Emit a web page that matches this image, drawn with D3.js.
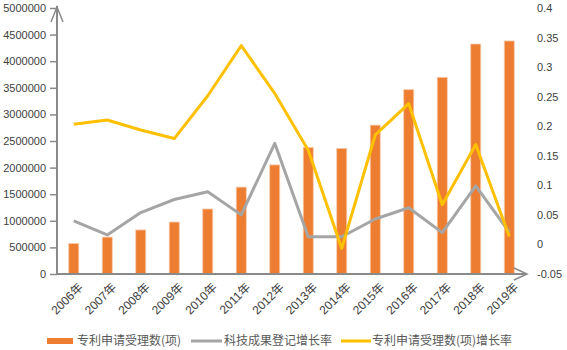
<!DOCTYPE html>
<html><head><meta charset="utf-8">
<script src="https://cdn.jsdelivr.net/npm/d3@7"></script>
<style>
body{margin:0;background:#fff;}
svg{display:block;font-family:"Liberation Sans",Arial,"Noto Sans CJK SC",sans-serif;}
</style></head>
<body><svg id="c" width="567" height="350"></svg>
<script>
const years = ["2006年","2007年","2008年","2009年","2010年","2011年","2012年","2013年","2014年","2015年","2016年","2017年","2018年","2019年"];
const patents = [573178,693917,828328,976686,1222286,1633347,2050649,2377061,2361243,2798500,3464824,3697845,4323112,4380468];
const techGrowth = [0.040,0.016,0.054,0.076,0.089,0.050,0.171,0.013,0.013,0.043,0.062,0.020,0.099,0.021];
const patentGrowth = [0.2035,0.2106,0.1937,0.1791,0.2515,0.3363,0.2555,0.1592,-0.0067,0.1852,0.2381,0.0673,0.1691,0.0133];
const leftTicks = [0,500000,1000000,1500000,2000000,2500000,3000000,3500000,4000000,4500000,5000000];
const rightTicks = [-0.05,0,0.05,0.1,0.15,0.2,0.25,0.3,0.35,0.4];
const seriesNames = ["专利申请受理数(项)","科技成果登记增长率","专利申请受理数(项)增长率"];

const svg = d3.select("#c");
const axisColor = "#8a8a8a", textColor = "#404040";
const x0 = 57, x1 = 526, yTop = 8, yBot = 274;

const xb = d3.scaleBand().domain(years).range([x0,x1]).paddingInner(0.7).paddingOuter(0.35);
const xp = d3.scalePoint().domain(years).range([x0,x1]).padding(0.5);
const yL = d3.scaleLinear().domain([0,5000000]).range([yBot,yTop]);
const yR = d3.scaleLinear().domain([-0.05,0.4]).range([yBot,yTop]);

// bars
svg.append("g").selectAll("rect").data(patents).join("rect")
  .attr("x",(d,i)=>xb(years[i])).attr("y",d=>yL(d))
  .attr("width",xb.bandwidth()).attr("height",d=>yBot-yL(d))
  .attr("fill","#ED7D31").attr("stroke","#F8CBAD").attr("stroke-width",0.8);

// lines
const lineR = d3.line().x((d,i)=>xp(years[i])).y(d=>yR(d));
svg.append("path").datum(techGrowth).attr("d",lineR).attr("fill","none")
  .attr("stroke","#A5A5A5").attr("stroke-width",3).attr("stroke-linejoin","round");
svg.append("path").datum(patentGrowth).attr("d",lineR).attr("fill","none")
  .attr("stroke","#FFC000").attr("stroke-width",3).attr("stroke-linejoin","round");

// left axis
const gL = svg.append("g").attr("transform",`translate(${x0},0)`)
  .call(d3.axisLeft(yL).tickValues(leftTicks).tickSize(7).tickPadding(4).tickFormat(d3.format("d")));
gL.select(".domain").remove();
gL.selectAll(".tick line").attr("stroke",axisColor).attr("stroke-width",1.5);
gL.selectAll(".tick text").attr("fill",textColor).style("font-size","11px").style("font-family","Liberation Sans, Arial, sans-serif");
svg.append("line").attr("x1",x0).attr("x2",x0).attr("y1",yBot).attr("y2",yTop-2)
  .attr("stroke",axisColor).attr("stroke-width",2);
svg.append("path").attr("d",`M${x0-6},${yTop+14}L${x0},${yTop-1}L${x0+6},${yTop+14}`)
  .attr("fill","none").attr("stroke",axisColor).attr("stroke-width",1.5);

// right axis labels
const gR = svg.append("g").attr("transform",`translate(${x1+11},0)`)
  .call(d3.axisRight(yR).tickValues(rightTicks).tickSize(0).tickPadding(0).tickFormat(d=>String(+d.toFixed(2))));
gR.select(".domain").remove();
gR.selectAll(".tick text").attr("fill",textColor).style("font-size","11px").style("font-family","Liberation Sans, Arial, sans-serif");

// bottom axis
svg.append("line").attr("x1",x0).attr("x2",x1+1).attr("y1",yBot).attr("y2",yBot)
  .attr("stroke",axisColor).attr("stroke-width",2);
svg.append("path").attr("d",`M${x1-12},${yBot-6}L${x1+1},${yBot}L${x1-12},${yBot+6}`)
  .attr("fill","none").attr("stroke",axisColor).attr("stroke-width",1.5);
const gB = svg.append("g");
gB.selectAll("text").data(years).join("text")
  .attr("transform",d=>`translate(${xp(d)+7},${yBot+11}) rotate(-45)`)
  .attr("text-anchor","end").attr("dy","0.35em")
  .attr("fill",textColor).style("font-size","12px")
  .style("font-family","Liberation Sans, Arial, 'Noto Sans CJK SC', sans-serif")
  .text(d=>d);

// legend
const lg = svg.append("g").style("font-size","12px").style("font-family","'Noto Sans CJK SC', sans-serif").attr("fill","#595959");
const ly = 341;
lg.append("rect").attr("x",47).attr("y",ly-3).attr("width",26).attr("height",6).attr("fill","#ED7D31");
lg.append("text").attr("x",77).attr("y",ly).attr("dy","0.35em").text(seriesNames[0]);
lg.append("line").attr("x1",191).attr("x2",222).attr("y1",ly).attr("y2",ly).attr("stroke","#A5A5A5").attr("stroke-width",3);
lg.append("text").attr("x",224).attr("y",ly).attr("dy","0.35em").text(seriesNames[1]);
lg.append("line").attr("x1",341).attr("x2",371).attr("y1",ly).attr("y2",ly).attr("stroke","#FFC000").attr("stroke-width",3);
lg.append("text").attr("x",372).attr("y",ly).attr("dy","0.35em").text(seriesNames[2]);
</script></body></html>
